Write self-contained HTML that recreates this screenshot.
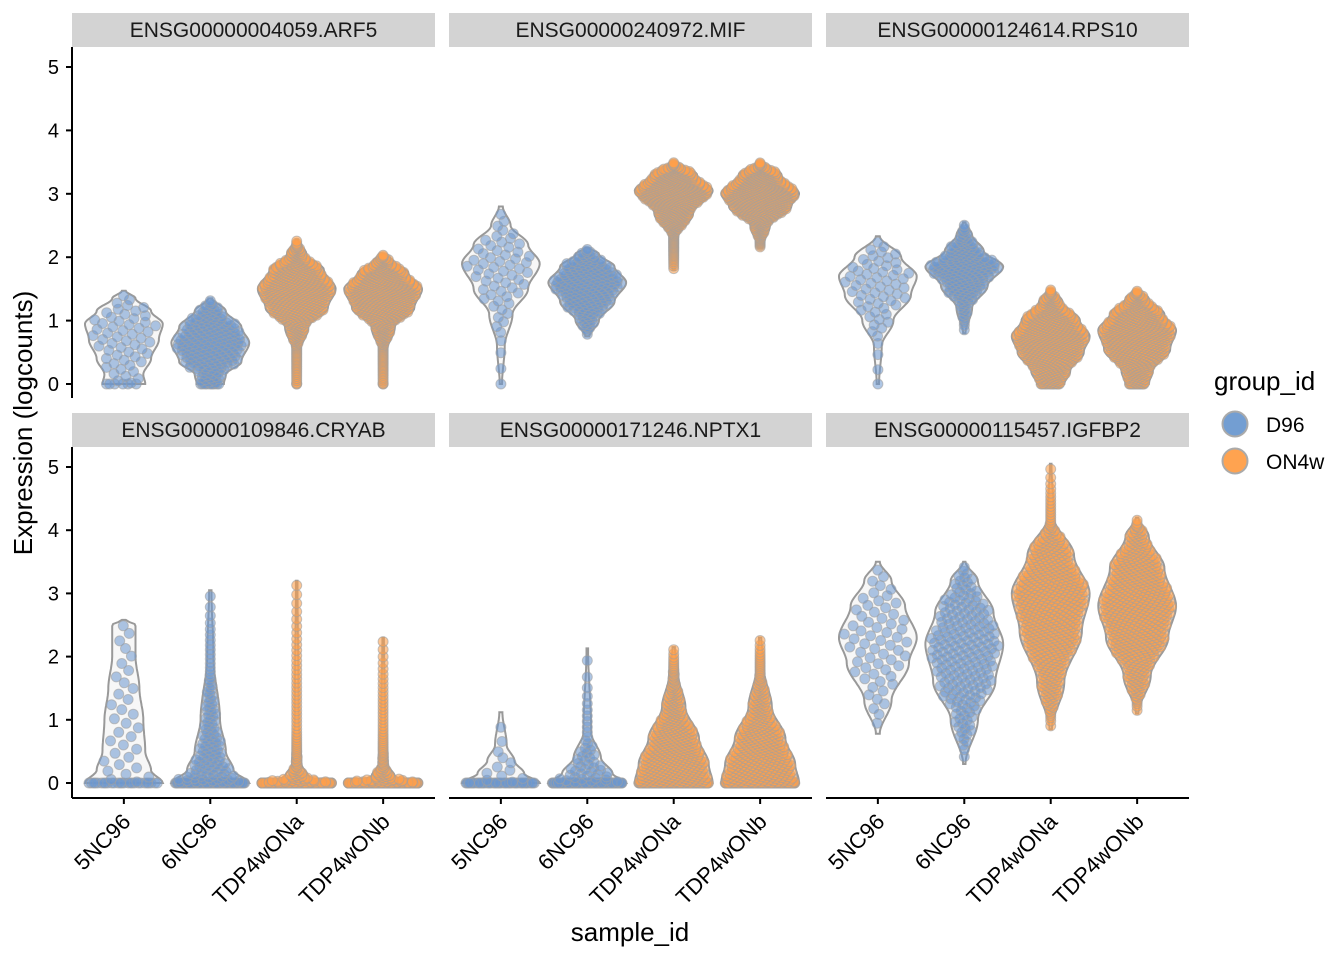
<!DOCTYPE html>
<html><head><meta charset="utf-8">
<style>
body{margin:0;background:#fff;}
svg{display:block;font-family:"Liberation Sans",Arial,sans-serif;}
</style></head>
<body>
<svg id="chart" width="1344" height="960"></svg>
<script>
const genes = ["ENSG00000004059.ARF5","ENSG00000240972.MIF","ENSG00000124614.RPS10","ENSG00000109846.CRYAB","ENSG00000171246.NPTX1","ENSG00000115457.IGFBP2"];
const samples = ["5NC96","6NC96","TDP4wONa","TDP4wONb"];
const groups = ["D96","D96","ON4w","ON4w"];
const yTicks = [0,1,2,3,4,5];
const counts = [60,200,550,550];
// violin profiles per gene per sample: [value, relative half-width]
const profiles = [
 [[[0,0.55],[0.15,0.5],[0.4,0.7],[0.7,0.9],[0.95,1],[1.15,0.7],[1.35,0.3],[1.47,0.05]],
  [[0,0.35],[0.15,0.4],[0.35,0.8],[0.65,1],[0.9,0.8],[1.15,0.4],[1.35,0.05]],
  [[0,0.05],[0.5,0.08],[0.9,0.3],[1.2,0.8],[1.5,1],[1.8,0.7],[2.05,0.25],[2.28,0.03]],
  [[0,0.05],[0.5,0.08],[0.9,0.3],[1.2,0.8],[1.5,1],[1.75,0.65],[1.95,0.25],[2.05,0.03]]],
 [[[0,0.03],[0.6,0.1],[1.1,0.3],[1.5,0.7],[1.9,1],[2.2,0.7],[2.5,0.25],[2.8,0.05]],
  [[0.75,0.05],[1.0,0.3],[1.3,0.7],[1.6,1],[1.85,0.7],[2.05,0.3],[2.15,0.05]],
  [[1.8,0.03],[2.3,0.1],[2.7,0.5],[3.05,1],[3.3,0.6],[3.5,0.05]],
  [[2.15,0.05],[2.5,0.25],[2.8,0.8],[3.0,1],[3.3,0.55],[3.5,0.05]]],
 [[[0,0.03],[0.6,0.1],[1.0,0.4],[1.4,0.85],[1.7,1],[2.0,0.6],[2.33,0.05]],
  [[0.8,0.03],[1.2,0.2],[1.55,0.6],[1.85,1],[2.1,0.5],[2.35,0.2],[2.55,0.03]],
  [[0,0.35],[0.2,0.5],[0.5,0.85],[0.75,1],[1.0,0.75],[1.3,0.3],[1.5,0.05]],
  [[0,0.3],[0.2,0.4],[0.55,0.85],[0.85,1],[1.1,0.7],[1.35,0.3],[1.48,0.05]]],
 [[[0,1],[0.2,0.7],[0.5,0.55],[1.0,0.5],[1.5,0.4],[2.0,0.3],[2.5,0.3],[2.58,0.05]],
  [[0,1],[0.2,0.6],[0.5,0.4],[1.0,0.25],[2.0,0.08],[3.05,0.03]],
  [[0,1],[0.1,0.3],[0.3,0.12],[1.0,0.05],[3.2,0.02]],
  [[0,1],[0.1,0.3],[0.3,0.12],[1.0,0.05],[2.3,0.02]]],
 [[[0,1],[0.15,0.6],[0.35,0.35],[0.6,0.15],[1.12,0.04]],
  [[0,1],[0.15,0.65],[0.4,0.35],[0.8,0.1],[2.13,0.02]],
  [[0,1],[0.3,0.9],[0.7,0.65],[1.2,0.3],[1.7,0.12],[2.15,0.03]],
  [[0,1],[0.3,0.9],[0.7,0.65],[1.2,0.3],[1.8,0.1],[2.3,0.03]]],
 [[[0.78,0.05],[1.3,0.35],[1.9,0.8],[2.3,1],[2.8,0.7],[3.2,0.35],[3.5,0.05]],
  [[0.3,0.03],[1.0,0.35],[1.6,0.8],[2.2,1],[2.7,0.75],[3.2,0.35],[3.5,0.03]],
  [[0.85,0.03],[1.6,0.35],[2.4,0.8],[3.0,1],[3.6,0.6],[4.2,0.08],[5.05,0.02]],
  [[1.1,0.03],[1.7,0.35],[2.3,0.8],[2.8,1],[3.4,0.7],[3.9,0.3],[4.2,0.03]]]
];
// fraction of cells with value exactly 0
const zeroFrac = [
 [0.1,0.05,0.003,0.003],[0.02,0,0,0],[0.02,0,0.03,0.03],
 [0.45,0.4,0.85,0.85],[0.8,0.75,0.3,0.35],[0,0,0,0]
];

const svg=document.getElementById('chart');
const NS='http://www.w3.org/2000/svg';
function mk(tag,attrs,parent){const e=document.createElementNS(NS,tag);for(const k in attrs)e.setAttribute(k,attrs[k]);(parent||svg).appendChild(e);return e;}
const panelX=[72,449,826], panelW=363;
const rowTop=[47,447], rowZero=[384,783], unitPx=[63.4,63.2];
const band=panelW/4.2, maxHalf=0.45*band;
function xPos(p,i){return panelX[p]+(0.6+i)*band;}
function yPos(r,v){return rowZero[r]-v*unitPx[r];}
function widthAt(prof,v){
  if(v<=prof[0][0])return prof[0][1];
  for(let k=1;k<prof.length;k++){if(v<=prof[k][0]){const a=prof[k-1],b=prof[k];let t=(v-a[0])/(b[0]-a[0]);t=t*t*(3-2*t);return a[1]+t*(b[1]-a[1]);}}
  return prof[prof.length-1][1];
}
const colD='rgba(108,152,208,0.55)', colO='rgba(255,160,75,0.6)';

for(let g=0;g<6;g++){
  const r=Math.floor(g/3), p=g%3;
  const pg=mk('g',{},svg);
  
  
  const strip=mk('rect',{x:panelX[p],y:rowTop[r]-34,width:panelW,height:34,fill:'#d3d3d3'},pg);
  
  
  const st=mk('text',{x:panelX[p]+panelW/2,y:rowTop[r]-10,'text-anchor':'middle','font-size':21,fill:'#1a1a1a'},pg);
  st.textContent=genes[g];
  
  
  for(let s=0;s<4;s++){
    const prof=profiles[g][s];
    const vmin=prof[0][0], vmax=prof[prof.length-1][0];
    const cx=xPos(p,s);
    let right=[],left=[];const steps=80;
    for(let k=0;k<=steps;k++){const v=vmin+(vmax-vmin)*k/steps;const w=widthAt(prof,v)*maxHalf;right.push([cx+w,yPos(r,v)]);left.unshift([cx-w,yPos(r,v)]);}
    const pts=right.concat(left);
    const vio=mk('path',{d:'M'+pts.map(q=>q[0].toFixed(1)+','+q[1].toFixed(1)).join('L')+'Z',fill:'#f7f7f7',stroke:'#999',"stroke-width":2},pg);
    
    
    const n=counts[s], nz=Math.round(n*zeroFrac[g][s]);
    const grid=200,cum=[0];
    for(let k=1;k<=grid;k++){const v=vmin+(vmax-vmin)*(k-0.5)/grid;cum.push(cum[k-1]+widthAt(prof,v));}
    const tot=cum[grid];
    const col=groups[s]==='D96'?colD:colO;
    const gp=mk('g',{},pg);
    
    
    for(let i=0;i<n;i++){
      let v,w;
      if(i<nz){v=0;w=widthAt(prof,0);}
      else{
        const q=((i-nz)+0.5)/(n-nz)*tot;
        let k=1;while(k<grid&&cum[k]<q)k++;
        const f=(q-cum[k-1])/(cum[k]-cum[k-1]||1);
        v=vmin+(vmax-vmin)*(k-1+f)/grid;w=widthAt(prof,v);
      }
      const u=((i*0.618034)%1)*2-1;
      const x=cx+u*Math.max(w*maxHalf-4,0);
      mk('circle',{cx:x.toFixed(1),cy:yPos(r,v).toFixed(1),r:5,fill:col,stroke:'rgba(160,160,160,0.6)','stroke-width':1},gp);
    }
  }
  if(p===0){
    const ax=mk('line',{x1:72,x2:72,y1:rowTop[r],y2:rowTop[r]+351,stroke:'#000','stroke-width':2},pg);
    
    
    yTicks.forEach(t=>{
      mk('line',{x1:66,x2:72,y1:yPos(r,t),y2:yPos(r,t),stroke:'#000','stroke-width':2},pg);
      const tl=mk('text',{x:59,y:yPos(r,t)+7,'text-anchor':'end','font-size':20,fill:'#000'},pg);
      tl.textContent=t;
      
      
    });
  }
  if(r===1){
    const bx=mk('line',{x1:panelX[p],x2:panelX[p]+panelW,y1:798,y2:798,stroke:'#000','stroke-width':2},pg);
    
    
    samples.forEach((sname,s)=>{
      const x=xPos(p,s);
      mk('line',{x1:x,x2:x,y1:798,y2:804,stroke:'#000','stroke-width':2},pg);
      const tl=mk('text',{x:x+8,y:823,'text-anchor':'end','font-size':22,fill:'#000',transform:'rotate(-45 '+(x+8)+' 823)'},pg);
      tl.textContent=sname;
      
      
    });
  }
}
const yt=mk('text',{x:32,y:423,'text-anchor':'middle','font-size':26,fill:'#000',transform:'rotate(-90 32 423)'});
yt.textContent='Expression (logcounts)';


const xt=mk('text',{x:630,y:941,'text-anchor':'middle','font-size':26,fill:'#000'});
xt.textContent='sample_id';


const lg=mk('g',{});


const lt=mk('text',{x:1214,y:390,'font-size':26,fill:'#000'},lg);
lt.textContent='group_id';


[['D96','rgb(115,158,210)',424],['ON4w','rgb(255,163,80)',461]].forEach(d=>{
  const c=mk('circle',{cx:1235,cy:d[2],r:12.5,fill:d[1],stroke:'#aaa','stroke-width':2},lg);
  
  
  const t=mk('text',{x:1266,y:d[2]+8,'font-size':21,fill:'#000'},lg);
  t.textContent=d[0];
  
  
});
</script>
</body></html>
